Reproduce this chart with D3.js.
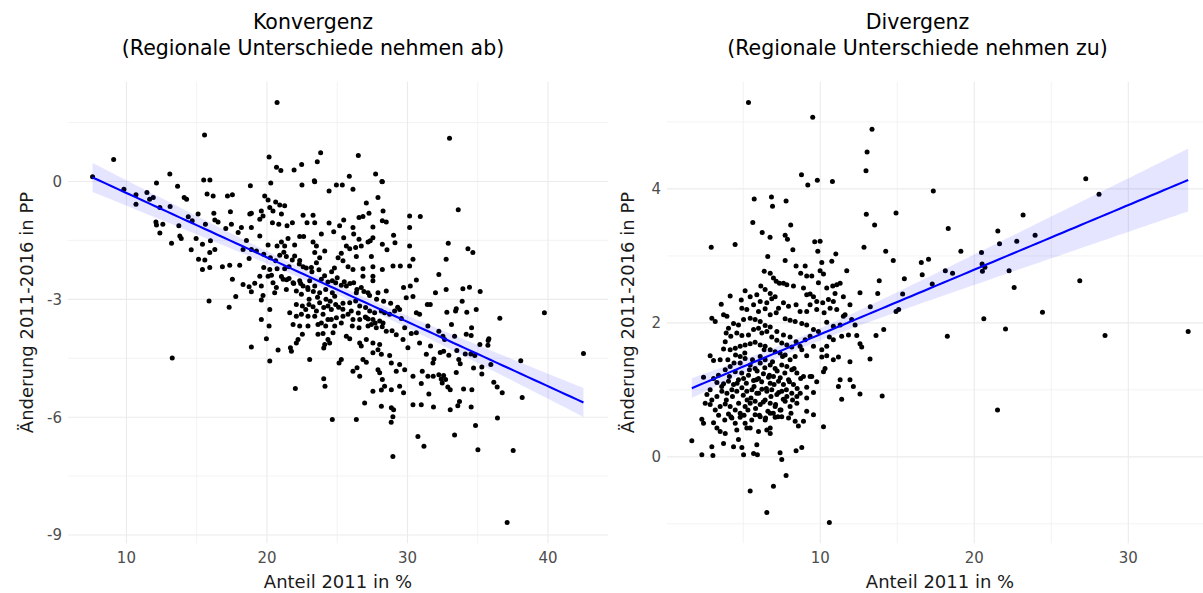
<!DOCTYPE html>
<html><head><meta charset="utf-8">
<script src="https://cdn.jsdelivr.net/npm/d3@7"></script>
<style>body{margin:0;background:#fff}svg{display:block}text{font-family:"DejaVu Sans",sans-serif}</style>
</head><body><svg id="c" width="1203" height="593"></svg>
<script>
// Konvergenz: [Anteil 2011 in %, Änderung 2011-2016 in PP]
const konvergenzPunkte = [
[7.59,0.12],[9.09,0.56],[9.82,-0.20],[10.68,-0.34],[10.68,-0.58],[11.46,-0.28],[11.65,-0.45],[11.91,-0.41],[12.14,-0.04],[12.38,-0.66],[13.09,0.19],[13.11,-0.64],[13.64,-0.12],[14.11,-0.41],[14.28,-0.45],[12.10,-1.03],[12.14,-1.11],[12.59,-1.09],[12.38,-1.31],[13.21,-1.57],[13.73,-1.13],[13.80,-1.39],[13.90,-1.45],[14.40,-0.90],[14.68,-1.00],[14.61,-1.74],[14.96,-1.45],[15.10,-0.83],[15.13,-1.98],[13.26,-4.49],
[15.56,1.18],[15.50,0.04],[15.94,0.04],[20.15,0.62],[20.68,0.36],[20.99,0.28],[20.72,2.01],[21.93,0.29],[22.47,0.43],[23.58,0.50],[23.82,0.73],[23.37,0.02],[26.50,0.66],[25.86,0.13],[27.73,0.19],[28.18,0.00],
[18.82,-0.11],[20.27,-0.04],[22.49,-0.09],[23.40,-0.01],[24.94,-0.09],[25.36,-0.09],[28.21,-0.01],[15.74,-0.32],[16.17,-0.37],[17.19,-0.37],[17.54,-0.34],[24.42,-0.24],[26.12,-0.20],[19.84,-0.37],[20.08,-0.47],
[20.62,-0.52],[20.91,-0.60],[21.26,-0.62],[20.20,-0.66],[20.43,-0.75],[27.07,-0.55],[27.90,-0.41],[28.26,-0.75],[18.89,-0.81],[18.78,-0.83],[19.60,-0.75],[19.72,-0.88],[19.49,-0.96],[16.22,-0.81],[16.29,-0.98],[16.52,-1.03],[17.40,-0.77],[17.47,-1.09],[17.07,-1.20],[21.03,-0.83],[22.57,-0.86],[23.28,-0.86],[22.85,-1.05],[23.40,-1.05],[24.42,-1.06],[25.46,-0.98],[25.17,-1.13],[26.12,-1.17],[26.55,-0.92],[26.83,-0.89],[27.26,-0.81],[28.49,-1.03],[28.21,-1.00],[30.15,-0.88],[30.91,-0.89],[30.15,-1.17],[21.81,-1.05],[21.43,-1.13],[20.39,-1.05],[20.84,-1.09],[18.18,-1.17],[18.89,-1.17],[15.62,-1.09],
[17.95,-1.30],[18.54,-1.50],[19.49,-1.39],[22.33,-1.40],[22.61,-1.40],[21.50,-1.45],[21.03,-1.54],[20.72,-1.64],[20.08,-1.62],[21.26,-1.64],[21.97,-1.62],[23.28,-1.54],[23.52,-1.64],[23.87,-1.34],[24.75,-1.28],[25.46,-1.43],[26.17,-1.34],[26.55,-1.47],[26.71,-1.64],[27.19,-1.54],[27.54,-1.43],[27.35,-1.51],[27.54,-1.16],[28.21,-1.60],[29.01,-1.37],[29.11,-1.56],[30.15,-1.64],[15.41,-1.60],[15.98,-1.51],[16.29,-1.73],[18.30,-1.73],[15.58,-2.00],[15.93,-1.81],
[18.89,-1.73],[19.25,-1.77],[19.77,-1.85],[20.24,-1.94],[20.62,-2.02],[20.91,-1.88],[21.38,-1.91],[21.97,-1.90],[22.33,-2.01],[23.40,-1.81],[24.11,-1.77],[23.75,-1.94],[23.52,-2.07],[23.16,-2.19],[22.57,-2.17],[21.57,-2.17],[21.26,-2.22],[20.72,-2.22],[20.20,-2.24],[19.77,-2.19],[25.06,-1.94],[25.29,-1.83],[25.65,-1.64],[25.89,-1.71],[26.31,-1.68],[26.36,-1.91],[25.41,-2.02],[25.77,-2.17],[26.12,-2.24],[26.83,-2.22],[27.43,-1.91],[27.54,-2.17],[28.21,-2.24],[28.97,-2.15],[29.49,-2.15],[30.15,-2.15],[30.39,-1.98],[28.54,-1.74],[15.93,-2.19],[15.41,-2.24],[16.83,-2.17],[17.35,-2.13],[18.06,-2.13],[18.73,-1.96],
[19.49,-2.41],[20.08,-2.41],[20.32,-2.39],[21.03,-2.42],[21.15,-2.49],[21.57,-2.47],[21.86,-2.58],[22.33,-2.53],[22.57,-2.66],[23.04,-2.53],[23.40,-2.66],[23.87,-2.49],[24.34,-2.56],[24.65,-2.53],[24.89,-2.58],[25.29,-2.64],[25.65,-2.66],[26.17,-2.58],[26.83,-2.41],[27.54,-2.41],[27.54,-2.53],[26.71,-2.70],[26.36,-2.83],[27.19,-2.83],[27.90,-2.83],[28.49,-2.79],[29.72,-2.70],[30.20,-2.66],[30.63,-2.51],[30.39,-2.93],[29.91,-2.96],[31.41,-3.13],[21.38,-2.75],[20.67,-2.70],[20.43,-2.58],[19.60,-2.66],[19.13,-2.59],[18.73,-2.68],[18.89,-2.81],[18.30,-2.62],[17.78,-2.93],[17.54,-2.49],[15.88,-3.04],[17.31,-3.20],[19.72,-2.90],[19.60,-3.02],[20.55,-2.83],[22.09,-2.79],[22.45,-2.87],[22.92,-2.75],[23.75,-2.83],[24.18,-2.75],[24.65,-2.83],[24.82,-2.92],
[21.62,-3.34],[22.09,-3.13],[22.52,-3.17],[22.76,-3.26],[22.99,-3.13],[23.28,-3.19],[23.52,-3.30],[23.75,-3.09],[24.04,-3.21],[24.34,-3.17],[24.58,-3.26],[24.89,-3.13],[25.41,-3.10],[25.89,-3.09],[26.31,-3.04],[26.60,-3.17],[27.02,-3.21],[27.31,-3.30],[27.66,-3.34],[28.14,-3.30],[28.37,-3.34],[28.73,-3.38],[29.08,-3.30],[29.44,-3.26],[29.56,-3.49],[22.09,-3.43],[22.45,-3.38],[22.92,-3.43],[23.40,-3.43],[23.99,-3.38],[24.34,-3.51],[24.58,-3.51],[24.94,-3.47],[25.41,-3.43],[25.77,-3.38],[26.12,-3.51],[26.60,-3.51],[27.07,-3.47],[27.54,-3.51],[28.02,-3.55],[28.26,-3.60],[20.20,-3.26],[19.60,-3.51],[20.15,-3.68],[21.86,-3.64],[22.33,-3.68],[22.92,-3.68],[23.63,-3.64],[23.87,-3.60],[24.18,-3.68],[24.82,-3.68],[25.29,-3.60],[26.07,-3.68],[26.55,-3.72],[27.19,-3.68],[27.43,-3.64],[27.78,-3.72],[28.49,-3.81],[29.80,-3.72],[30.27,-3.87],[30.63,-3.34],[30.86,-3.38],[31.45,-3.68],[30.63,-3.85],
[18.89,-4.21],[19.96,-4.00],[20.79,-4.29],[21.67,-4.23],[21.74,-4.32],[22.09,-4.11],[22.21,-4.02],[22.52,-3.89],[23.04,-4.53],[23.63,-3.89],[23.99,-3.87],[24.34,-4.02],[24.11,-4.15],[24.04,-4.24],[24.46,-4.11],[24.70,-3.85],[25.65,-3.94],[25.89,-4.00],[26.60,-4.11],[26.71,-4.19],[27.07,-4.02],[27.54,-4.11],[28.02,-4.15],[27.90,-4.28],[27.54,-4.36],[28.14,-4.40],[28.73,-4.43],[29.68,-4.02],[30.03,-4.23],[30.86,-4.11],[31.34,-4.40],[20.20,-4.57],[25.13,-4.62],[25.29,-4.53],[26.83,-4.53],[27.07,-4.60],[28.85,-4.62],[29.44,-4.66],
[26.12,-4.83],[26.41,-4.74],[26.60,-4.96],[27.90,-4.79],[28.02,-4.87],[29.20,-4.83],[29.80,-4.79],[30.39,-4.96],[31.05,-4.83],[31.45,-4.96],[24.04,-5.02],[24.13,-5.21],[22.02,-5.27],[28.21,-5.04],[28.37,-5.21],[28.14,-5.31],[27.54,-5.34],[28.85,-5.30],[29.44,-5.21],[29.72,-5.38],[30.98,-5.14],[26.95,-5.64],[28.14,-5.72],[28.85,-5.76],[30.39,-5.68],[30.98,-5.68],
[24.65,-6.06],[26.36,-6.06],[28.84,-6.13],[28.96,-5.99],[29.01,-5.81],[28.96,-7.00],[30.74,-6.49],[31.17,-6.74],
[32.99,1.10],[33.61,-0.72],[32.90,-1.57],[32.75,-1.98],[34.30,-1.71],[34.65,-1.81],[32.23,-2.37],[31.99,-2.83],[32.75,-2.75],[33.94,-2.73],[34.41,-2.69],[35.17,-2.80],[33.89,-3.05],[33.47,-3.24],[33.42,-3.30],[32.80,-3.33],[34.22,-3.33],[34.89,-3.26],[33.13,-3.64],[34.56,-3.72],[31.62,-3.13],[32.23,-3.81],[33.35,-3.94],[34.18,-3.89],[34.53,-3.92],[35.79,-4.00],[32.52,-3.94],[36.57,-3.48],[39.74,-3.34],
[42.52,-4.38],[38.06,-4.56],[38.16,-5.50],[36.40,-6.02],[37.52,-6.85],[37.09,-8.68],[35.01,-6.83],[34.84,-6.21],[33.35,-6.45],[34.53,-5.74],[33.99,-5.28],[34.58,-5.30],[36.74,-5.38],[36.38,-5.23],[36.14,-5.11],[35.93,-4.66],[35.29,-4.72],[35.29,-4.90],[34.70,-4.75],[34.79,-4.43],[35.15,-4.15],[35.74,-4.05],[35.72,-4.17],[34.11,-4.39],[34.51,-4.39],[33.51,-4.30],[33.65,-4.53],[33.75,-4.64],[33.47,-4.86],[32.94,-4.42],[32.64,-4.02],[32.57,-4.94],[32.71,-5.04],[32.87,-5.23],[33.04,-5.30],[33.70,-5.60],[33.58,-5.71],[33.04,-5.81],[32.33,-4.35],[32.57,-4.32],[31.88,-4.52],[31.81,-4.62],[31.64,-4.19],[32.23,-4.92],[32.40,-5.03],[32.47,-5.13],[31.85,-5.74],[31.83,-4.96],[31.52,-5.41],
[21.2,-1.8],[21.4,-2.5],[21.8,-2.0],[21.9,-2.6],[22.3,-2.1],[22.4,-2.6],[22.8,-2.2],[22.9,-2.7],[23.2,-2.3],[23.3,-2.8],[23.7,-2.25],[23.6,-2.95],[24.1,-2.4],[24.2,-3.0],[24.6,-2.3],[24.5,-3.05],[25.0,-2.45],[25.1,-3.2],[25.5,-2.55],[25.4,-3.25],[25.9,-2.6],[26.0,-3.3],[26.4,-2.75],[26.5,-3.35],[26.9,-2.8],[27.0,-3.45],[27.3,-2.9],[27.2,-3.5],[27.8,-3.0],[27.7,-3.6],[28.3,-3.05],[28.2,-3.7],[28.8,-3.1],[28.9,-3.8],[29.3,-3.2],[29.2,-3.9],[23.0,-3.0],[24.8,-2.2]
];

// Divergenz: [Anteil 2011 in %, Änderung 2011-2016 in PP]
const divergenzPunkte = [
[6.59,2.99],[7.72,2.93],[8.22,3.09],[8.43,2.85],[9.02,2.85],[9.84,3.07],[11.01,3.03],[10.75,2.92],[10.10,2.90],[9.99,2.78],[10.21,2.73],[11.72,2.78],[8.73,2.74],[9.12,2.70],[9.45,2.70],[6.36,2.77],[6.75,2.74],[6.96,2.67],[7.14,2.62],[7.35,2.59],[7.61,2.59],[7.83,2.57],[8.26,2.55],[6.14,2.55],[6.42,2.50],[6.75,2.44],[6.85,2.36],[7.07,2.39],[9.88,2.60],[10.42,2.52],[10.81,2.55],[11.07,2.57],[11.29,2.59],[10.96,2.44],[11.50,2.39],[12.58,2.45],[8.91,2.52],[9.12,2.42],[9.34,2.43],[9.56,2.39],[9.77,2.32],[10.16,2.30],[10.53,2.35],[10.85,2.32],[11.93,2.27],[5.12,2.48],[5.45,2.39],[4.87,2.34],[4.15,2.40],[3.57,2.28],[5.88,2.42],[6.10,2.32],[6.53,2.30],[7.29,2.22],[7.61,2.30],[7.94,2.25],[8.43,2.27],[8.69,2.17],[9.12,2.17],[9.34,2.27],[9.77,2.20],[10.25,2.15],[10.64,2.22],[11.07,2.20],[11.61,2.12],[12.04,2.05],[11.50,2.10],
[2.96,2.07],[3.18,2.02],[3.72,2.12],[3.94,2.10],[4.91,2.22],[5.23,2.20],[5.67,2.27],[5.99,2.17],[6.42,2.21],[6.75,2.12],[7.14,2.15],[7.72,2.06],[8.04,2.04],[8.37,2.02],[8.80,1.99],[9.12,1.97],[9.56,1.90],[9.88,1.87],[10.42,2.01],[10.85,1.95],[11.29,1.97],[12.26,1.97],[11.39,1.80],[10.59,1.79],[10.85,1.75],[12.37,1.81],[10.42,1.65],[10.10,1.60],[9.34,1.80],[9.56,1.65],[9.02,1.75],[8.69,1.65],[8.43,1.72],[8.04,1.79],[7.61,1.82],[7.18,1.87],[6.75,1.94],[6.42,1.96],[6.10,2.02],[5.77,2.05],[5.45,2.07],[5.02,2.05],[4.69,1.97],[4.37,1.99],[4.04,1.92],[3.89,1.85],[4.19,1.80],[4.58,1.85],[4.91,1.81],[5.34,1.82],[5.67,1.90],[5.99,1.92],[6.21,1.85],[6.53,1.87],[6.85,1.79],[7.18,1.74],[7.50,1.70],[7.83,1.67],[8.15,1.64],[8.80,1.60],[9.12,1.51],[4.15,1.60],[4.48,1.62],[4.80,1.65],[5.12,1.67],[5.45,1.69],[5.77,1.71],[6.10,1.67],[6.42,1.65],[6.75,1.60],[7.07,1.57],[7.39,1.55],[7.72,1.52],[8.37,1.50],[10.10,1.49],[10.42,1.51],[10.85,1.45],[11.18,1.49],[13.23,1.46],[12.58,1.69],[12.69,1.64],[11.83,1.82],[11.93,1.42],[3.72,1.61],[3.83,1.72],[2.85,1.51],[3.07,1.44],[3.50,1.45],
[2.42,1.19],[3.07,1.17],[3.39,1.22],[3.83,1.30],[4.15,1.35],[4.48,1.27],[4.80,1.40],[5.12,1.47],[5.45,1.37],[5.77,1.32],[6.10,1.40],[6.42,1.45],[6.75,1.37],[7.07,1.32],[7.50,1.37],[7.83,1.35],[8.15,1.30],[8.48,1.25],[8.91,1.20],[9.34,1.20],[10.31,1.32],[10.21,1.27],[8.04,1.45],[3.29,1.11],[3.72,1.09],[4.04,1.13],[4.37,1.08],[4.69,1.15],[5.02,1.17],[5.34,1.22],[5.67,1.14],[5.99,1.17],[6.31,1.24],[6.64,1.19],[6.96,1.20],[7.29,1.13],[7.61,1.08],[7.94,1.15],[8.26,1.08],[8.73,1.17],[9.12,1.04],[9.45,1.20],[9.77,1.12],[11.29,1.15],[11.18,1.05],[11.93,1.15],[12.15,1.05],[12.58,0.94],[11.39,0.86],[2.85,1.00],[2.64,0.93],[2.96,0.85],[3.29,0.90],[3.61,0.98],[3.94,0.95],[4.26,1.00],[4.58,0.98],[4.91,1.03],[5.23,0.98],[5.56,1.00],[5.88,0.95],[6.21,1.01],[6.53,0.98],[6.85,1.00],[7.18,0.93],[7.50,0.98],[7.83,0.90],[8.15,0.95],[8.48,0.90],[9.56,0.96],[9.12,0.88],
[2.53,0.80],[2.85,0.78],[3.18,0.70],[3.50,0.75],[3.83,0.79],[4.15,0.75],[4.48,0.70],[4.80,0.65],[5.12,0.75],[5.45,0.80],[5.77,0.83],[6.10,0.78],[6.42,0.85],[6.75,0.80],[7.07,0.75],[7.39,0.70],[7.72,0.83],[8.04,0.75],[8.48,0.80],[9.12,0.68],[9.56,0.63],[7.94,0.58],[2.31,0.56],[2.42,0.50],[3.07,0.51],[3.29,0.43],[4.04,0.64],[4.26,0.58],[4.48,0.50],[4.80,0.59],[5.12,0.50],[5.45,0.43],[5.77,0.63],[6.10,0.60],[6.42,0.55],[6.75,0.65],[7.07,0.59],[7.50,0.60],[8.37,0.53],[8.58,0.46],[8.91,0.53],[10.21,0.45],[4.58,0.40],[5.23,0.43],[5.99,0.38],[6.53,0.40],[6.75,0.35],[3.83,0.35],[3.50,0.38],[4.69,0.26],[1.66,0.24],[3.72,0.20],[4.37,0.15],[4.91,0.14],[2.96,0.15],[2.31,0.03],[3.03,0.02],[5.02,0.03],[5.88,0.18],[5.67,0.05],[5.92,0.03],[7.39,0.06],[7.50,-0.04],[8.43,0.09],[8.80,0.14],[6.75,0.43],
[3.6,1.05],[3.9,0.85],[4.1,1.2],[4.3,0.9],[4.4,1.4],[4.6,1.1],[4.7,0.8],[4.9,1.25],[5.0,0.92],[5.1,1.55],[5.2,1.1],[5.3,0.7],[5.4,1.3],[5.5,0.88],[5.6,1.45],[5.7,1.05],[5.8,0.72],[5.9,1.28],[6.0,0.95],[6.1,1.5],[6.2,1.12],[6.3,0.82],[6.4,1.33],[6.5,1.02],[6.6,0.68],[6.7,1.22],[6.8,0.9],[6.9,1.42],[7.0,1.08],[7.1,0.78],[7.2,1.28],[7.3,0.96],[7.4,1.18],[7.6,0.86],[7.7,1.25],[7.8,1.0],[8.0,1.12],[8.2,0.85],[8.3,1.32],[8.5,1.02],[3.4,0.62],[3.8,0.55],[4.2,0.6],[4.5,1.52],[5.05,0.62],[5.55,0.55],[6.05,0.62],[6.45,0.58],[6.95,0.65],[7.45,0.7],[4.0,1.45],[4.8,1.5],[5.25,0.85],[5.85,1.15],[6.35,1.6],[6.75,1.1],[7.25,0.6],[7.55,1.5],[8.1,0.65],[8.7,0.95],
[5.34,5.29],[9.51,5.07],[13.36,4.89],[13.04,4.55],[12.97,4.27],[8.78,4.21],[9.19,4.06],[9.81,4.13],[10.79,4.11],[5.71,3.85],[6.83,3.88],[6.90,3.74],[7.78,3.82],[5.62,3.50],[6.23,3.35],[6.74,3.28],[2.92,3.13],[4.47,3.17],[8.08,3.46],[7.72,3.31],[7.87,3.25],[12.99,3.62],[13.53,3.46],[9.64,3.21],[9.99,3.22],[12.84,3.13],
[27.24,4.15],[28.10,3.92],[17.34,3.97],[14.92,3.64],[18.31,3.41],[23.17,3.61],[21.53,3.37],[23.95,3.31],[21.64,3.18],[22.76,3.22],
[13.83,2.63],[13.73,2.44],[13.25,2.24],[13.62,1.81],[14.12,1.90],
[14.25,3.07],[14.74,2.93],[16.56,2.90],[17.03,2.95],[19.13,3.07],[20.47,3.05],[15.46,2.66],[16.62,2.72],[18.12,2.78],[18.59,2.74],[17.27,2.58],[15.35,2.43],[20.53,2.77],[20.69,2.83],[20.51,2.88],[22.26,2.78],[22.59,2.53],[26.85,2.63],[24.43,2.16],[20.62,2.06],[14.92,2.17],[15.09,2.20],[22.03,1.91],[18.25,1.80],[28.49,1.81],[33.89,1.87],
[14.02,0.91],[21.51,0.70],
[5.45,-0.51],[6.96,-0.44],[7.78,-0.28],[6.53,-0.83],[10.59,-0.98]
];

const konvXTicks = [10, 20, 30, 40], konvXMinor = [5, 15, 25, 35];
const konvYTicks = [0, -3, -6, -9], konvYMinor = [1.5, -1.5, -4.5, -7.5];
const divXTicks = [10, 20, 30], divXMinor = [5, 15, 25, 35];
const divYTicks = [0, 2, 4], divYMinor = [-1, 1, 3, 5];
const titelKonv = ["Konvergenz", "(Regionale Unterschiede nehmen ab)"];
const titelDiv = ["Divergenz", "(Regionale Unterschiede nehmen zu)"];
const xTitel = "Anteil 2011 in %";
const yTitel = "Änderung 2011-2016 in PP";

const svg = d3.select("#c");

function expand(ext) { const d = (ext[1] - ext[0]) * 0.05; return [ext[0] - d, ext[1] + d]; }

function drawPanel(cfg) {
  const pts = cfg.data;
  const x = d3.scaleLinear().domain(expand(d3.extent(pts, d => d[0]))).range([cfg.left, cfg.right]);
  const y = d3.scaleLinear().domain(expand(d3.extent(pts, d => d[1]))).range([cfg.bottom, cfg.top]);
  const clipId = "clip" + cfg.id;
  svg.append("clipPath").attr("id", clipId).append("rect")
    .attr("x", cfg.left).attr("y", cfg.top).attr("width", cfg.right - cfg.left).attr("height", cfg.bottom - cfg.top);
  const g = svg.append("g").attr("clip-path", `url(#${clipId})`);
  const [xd0, xd1] = x.domain(), [yd0, yd1] = y.domain();
  g.selectAll(".mx").data(cfg.xMinor.filter(v => v >= xd0 && v <= xd1)).join("line")
    .attr("x1", d => x(d)).attr("x2", d => x(d)).attr("y1", cfg.top).attr("y2", cfg.bottom)
    .attr("stroke", "#f0f0f0").attr("stroke-width", 0.8);
  g.selectAll(".my").data(cfg.yMinor.filter(v => v >= yd0 && v <= yd1)).join("line")
    .attr("y1", d => y(d)).attr("y2", d => y(d)).attr("x1", cfg.left).attr("x2", cfg.right)
    .attr("stroke", "#f0f0f0").attr("stroke-width", 0.8);
  g.selectAll(".Mx").data(cfg.xTicks).join("line")
    .attr("x1", d => x(d)).attr("x2", d => x(d)).attr("y1", cfg.top).attr("y2", cfg.bottom)
    .attr("stroke", "#ebebeb").attr("stroke-width", 1.1);
  g.selectAll(".My").data(cfg.yTicks).join("line")
    .attr("y1", d => y(d)).attr("y2", d => y(d)).attr("x1", cfg.left).attr("x2", cfg.right)
    .attr("stroke", "#ebebeb").attr("stroke-width", 1.1);
  g.selectAll(".pt").data(pts).join("circle")
    .attr("cx", d => x(d[0])).attr("cy", d => y(d[1])).attr("r", 2.5).attr("fill", "#000");
  // linear regression with 95% confidence band
  const n = pts.length, mx = d3.mean(pts, d => d[0]), my = d3.mean(pts, d => d[1]);
  const sxx = d3.sum(pts, d => (d[0] - mx) ** 2), sxy = d3.sum(pts, d => (d[0] - mx) * (d[1] - my));
  const b = sxy / sxx, a = my - b * mx;
  const s2 = d3.sum(pts, d => (d[1] - a - b * d[0]) ** 2) / (n - 2);
  const t = 1.965;
  const [xmin, xmax] = d3.extent(pts, d => d[0]);
  const grid = d3.range(80).map(i => xmin + (xmax - xmin) * i / 79);
  const band = grid.map(xv => { const f = a + b * xv, se = Math.sqrt(s2 * (1 / n + (xv - mx) ** 2 / sxx)); return [xv, f - t * se, f + t * se]; });
  g.append("path").datum(band)
    .attr("d", d3.area().x(d => x(d[0])).y0(d => y(d[1])).y1(d => y(d[2])))
    .attr("fill", "#0000ff").attr("fill-opacity", 0.1);
  g.append("path").datum(grid)
    .attr("d", d3.line().x(d => x(d)).y(d => y(a + b * d)))
    .attr("fill", "none").attr("stroke", "#0000ff").attr("stroke-width", 2.1);
  svg.append("g").selectAll("text").data(cfg.xTicks).join("text")
    .attr("x", d => x(d)).attr("y", cfg.bottom + 19.5).attr("text-anchor", "middle")
    .attr("font-size", 15).attr("fill", "#4d4d4d").text(d => d);
  svg.append("g").selectAll("text").data(cfg.yTicks).join("text")
    .attr("x", cfg.left - 6).attr("y", d => y(d)).attr("dy", "0.36em").attr("text-anchor", "end")
    .attr("font-size", 15).attr("fill", "#4d4d4d").text(d => d);
  svg.append("text").attr("x", (cfg.left + cfg.right) / 2).attr("y", 588)
    .attr("text-anchor", "middle").attr("font-size", 18).attr("fill", "#1a1a1a").text(xTitel);
  svg.append("text").attr("transform", `translate(${cfg.yTitleX},${(cfg.top + cfg.bottom) / 2}) rotate(-90)`)
    .attr("text-anchor", "middle").attr("font-size", 18).attr("fill", "#1a1a1a").text(yTitel);
  svg.append("text").attr("x", cfg.titleX).attr("y", 29).attr("text-anchor", "middle")
    .attr("font-size", 20.5).attr("fill", "#000").text(cfg.title[0]);
  svg.append("text").attr("x", cfg.titleX).attr("y", 55).attr("text-anchor", "middle")
    .attr("font-size", 20.5).attr("fill", "#000").text(cfg.title[1]);
}

drawPanel({ id: "K", data: konvergenzPunkte, left: 68, right: 608, top: 81.5, bottom: 543.5,
  xTicks: konvXTicks, xMinor: konvXMinor, yTicks: konvYTicks, yMinor: konvYMinor,
  title: titelKonv, titleX: 313, yTitleX: 33 });
drawPanel({ id: "D", data: divergenzPunkte, left: 667, right: 1213, top: 81.5, bottom: 543.5,
  xTicks: divXTicks, xMinor: divXMinor, yTicks: divYTicks, yMinor: divYMinor,
  title: titelDiv, titleX: 917.5, yTitleX: 634 });
</script></body></html>
